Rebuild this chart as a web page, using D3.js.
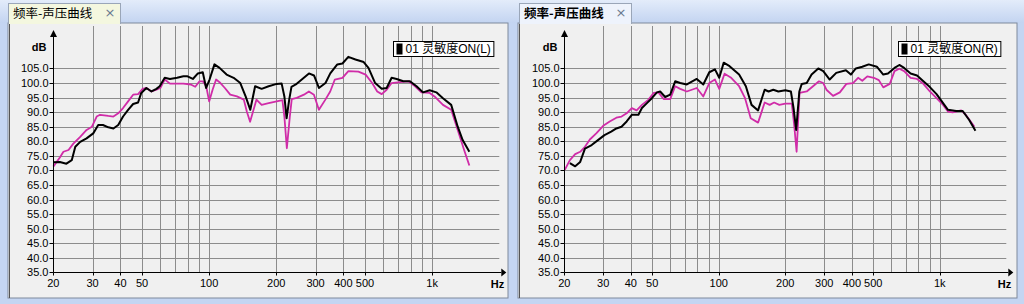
<!DOCTYPE html>
<html><head><meta charset="utf-8">
<script src="https://cdnjs.cloudflare.com/ajax/libs/d3/7.8.5/d3.min.js"></script>
<style>
html,body{margin:0;padding:0;background:#c4d5f2;}
svg{display:block;}
</style></head>
<body>
<svg id="chart" width="1024" height="304"></svg>
<script>
// ---------------- data ----------------
const tabTitle = "频率-声压曲线";
const yTicks = [35,40,45,50,55,60,65,70,75,80,85,90,95,100,105];
const gridFreqs = [30,40,50,60,70,80,90,100,200,300,400,500,600,700,800,900,1000];
const xTickValues = [20,30,40,50,100,200,300,400,500,1000];
const xTickLabels = ["20","30","40","50","100","200","300","400","500","1k"];

const leftBlackFreq = [20,21.4,22.9,24.2,25.1,26.4,28.2,30.2,31.8,33.4,35.3,37.2,39.1,41.1,43.3,45.6,48,49.6,52.3,55.1,58,60,63.2,66.7,71.8,76.6,80,84.5,89,93.6,96.9,100.4,105.6,111.3,119.7,128.7,137.9,145.7,152.9,160.7,171.9,184.8,200.8,211.4,217.4,222.4,228.5,233.9,244.6,261.8,280.2,295.2,310.5,332.4,349.2,375.4,396,420.7,453,493,518,555,594,625,658,693,742,795,851,910,975,1044,1118,1217,1302,1370,1468];
const leftBlackDb = [72.8,72.9,72.3,73.5,78.1,79.8,81,82.7,85.6,85.6,84.8,84.4,85.6,88.5,90.8,92.8,93.3,96.6,98.3,97.1,98,98.9,101.8,101.4,101.8,102.3,102.3,101.4,103.3,103.7,98.3,101.2,106.4,105.2,102.9,101.8,100,95.4,90.8,98.9,98,98.9,99.7,99.8,95.4,87.9,94.3,98.7,99.5,101.4,103.3,102.6,98.3,100,103.3,106.4,106.7,109,108.1,107.2,105.2,100,98,98.3,101.8,101.4,100.6,100.6,98.9,96.8,97.5,96.8,94.8,92.5,85,80.4,76.4];

const leftMagentaFreq = [20,21.4,22.2,23.4,24.6,26.4,28.2,29.8,31.3,32.4,35.3,37.2,39.1,41.1,43.3,45.6,48,50.3,52.3,55.1,58,60.4,63.2,66.7,76.6,82.7,86.6,90.5,93.6,97,100,103.6,107.4,111.3,117.6,124.3,133.2,143,147.5,152.6,162.9,171.9,184.8,200.8,213,217.4,223,230,234.6,247,266,280,295,310.5,332,349,366,396,421,467,503,538,567,594,625,658,716,782,838,895,975,1024,1118,1217,1302,1392,1468];
const leftMagentaDb = [71.3,74.4,76.4,77,79.2,81.5,83.9,85,88.5,89.1,88.7,88.5,89.6,91.4,93.7,96,96.2,98,98.3,97.1,97.7,98.3,101.2,99.8,99.8,99.5,98.7,100.6,100.6,98.9,93.7,97.7,101.2,100.3,98.3,96,95.4,94.3,90.2,86.7,94.3,92.5,93.1,93.7,94.1,88.5,77.6,88.5,94.5,94.9,96,97.1,96,90.8,94.3,97.1,101.2,101.8,104.1,103.9,102.9,100,97.1,96.2,97.7,100,100.3,100.6,98.9,96.8,96.6,95.4,92.5,90.8,83.9,76.9,71.7];

const rightBlackFreq = [21.2,22.4,23.6,24.8,26.6,28.4,30.4,32.6,34.4,36.3,38.3,40.4,43.3,44.9,47.3,49.8,52.5,54.3,57.2,60.3,63.5,66.9,71.7,79.5,85.1,90.6,96.1,100.5,105.3,111.9,123.6,132.6,140.7,150.6,161.3,168,176.5,186,200,212,218,224,231.5,237.4,250,263,282,297,317.6,340,376,396,417,446,477,519,555,583,624,656,690,738,789,843,902,967,1035,1089,1186,1270,1359,1450];
const rightBlackDb = [72.5,71.4,72.9,77.5,78.7,80.4,82.1,83.3,84.4,85,86.8,89.1,89.1,91.4,93.1,94.8,96.8,97.1,95.2,96,100.6,100,99.5,101.4,99.5,103.7,104.7,101.8,107,105.8,102.9,98.9,92.5,90.6,97.7,97.1,97.7,97.1,97.5,97.1,91.4,83.9,97.1,99.7,100,102.9,105,104.1,101.2,103.5,104.4,102.9,105,105.6,106.4,105.6,102.9,103.3,105.2,106.2,105.2,103.3,102.6,100.6,98.6,96.2,93.1,90.8,90.4,90.4,87.3,83.6];

const rightMagentaFreq = [20.1,21.2,22.4,23.6,24.8,26.1,27.9,30,32.1,34.4,36.3,38.3,40.4,42.5,44.9,48.1,50.7,53.3,56.3,60.3,63.5,66.9,71.7,79.5,85.1,90.6,96.1,100.5,106.2,113.8,123.6,131.5,139.5,150.6,161.3,170,178,188,200,214,219,225,232,250,267,284,297,307,329,353,378,405,427,446,470,503,530,555,594,624,656,690,738,789,843,902,967,1035,1089,1144,1250,1311,1435];
const rightMagentaDb = [70.2,73.5,75.6,76.4,78.1,80.6,82.7,85.3,86.8,88.1,88.5,89.6,91.4,90.6,92.5,94.3,96.6,96.8,94.5,94.5,98.9,98,97.1,98.3,95.4,100,101.2,98,103.2,101.8,98.9,94.8,87.9,86.4,93.3,92.5,93.3,92.5,92.9,92.9,86.2,76.4,96.6,97.1,98.9,100.6,100,97.7,95.6,96.8,99.7,100,101.8,100.8,102.3,101.8,101,98.5,99.7,104.1,104.9,104.1,101.8,101.4,99.7,97.1,94.8,92.5,90.2,89.9,90.6,89.1,85];

const legendLeft = "01 灵敏度ON(L)";
const legendRight = "01 灵敏度ON(R)";

// ---------------- drawing ----------------
const svg = d3.select("#chart");
const defs = svg.append("defs");
const gTop = defs.append("linearGradient").attr("id","topband").attr("x1",0).attr("y1",0).attr("x2",0).attr("y2",1);
gTop.append("stop").attr("offset","0%").attr("stop-color","#e3ecfa");
gTop.append("stop").attr("offset","100%").attr("stop-color","#c3d4f1");

svg.append("rect").attr("x",0).attr("y",0).attr("width",1024).attr("height",304).attr("fill","#c4d5f2");
svg.append("rect").attr("x",0).attr("y",0).attr("width",1024).attr("height",23).attr("fill","url(#topband)");

function drawPanel(cfg) {
  const g = svg.append("g");
  // content area
  g.append("rect").attr("x",cfg.left).attr("y",23).attr("width",cfg.right-cfg.left).attr("height",275)
    .attr("fill","#f0f0f0").attr("stroke","#7f8a9c").attr("stroke-width",1);
  g.append("line").attr("x1",cfg.left+1.5).attr("x2",cfg.left+1.5).attr("y1",23).attr("y2",298).attr("stroke","#555").attr("stroke-width",1);
  // tab
  g.append("rect").attr("x",cfg.tabX+0.5).attr("y",3.5).attr("width",112).attr("height",20)
    .attr("fill",cfg.tabFill).attr("stroke","#9aa6b8");
  g.append("rect").attr("x",cfg.tabX+1).attr("y",22).attr("width",111).attr("height",2).attr("fill",cfg.tabFill);
  g.append("text").attr("x",cfg.tabX+5).attr("y",18).text(tabTitle)
    .attr("font-family","'Noto Sans CJK SC', sans-serif").attr("font-size",12.5)
    .attr("font-weight",cfg.tabBold?"bold":"normal").attr("fill","#000");
  g.append("text").attr("x",cfg.tabX+102).attr("y",17).text("×")
    .attr("font-family","'DejaVu Sans', sans-serif").attr("font-size",13).attr("fill","#6a7a90")
    .attr("text-anchor","middle");

  const x = d3.scaleLog().domain([20,2000]).range([cfg.x0, cfg.x0 + 2*cfg.ppd]);
  const y = d3.scaleLinear().domain([35,120]).range([272.3, 24.8]);
  const xr = x(2000);

  // plot background
  g.append("rect").attr("x",cfg.x0).attr("y",25).attr("width",xr-cfg.x0).attr("height",272.3-25).attr("fill","#f0f0f0");

  // grid
  g.selectAll(".vg").data(gridFreqs).join("line")
    .attr("x1",d=>Math.round(x(d))+0.5).attr("x2",d=>Math.round(x(d))+0.5)
    .attr("y1",26).attr("y2",272).attr("stroke","#8c8c8c").attr("stroke-width",1);
  g.selectAll(".hg").data(yTicks.slice(1)).join("line")
    .attr("x1",cfg.x0).attr("x2",xr)
    .attr("y1",d=>Math.round(y(d))+0.5).attr("y2",d=>Math.round(y(d))+0.5)
    .attr("stroke","#8c8c8c").attr("stroke-width",1);

  // curves
  const line = d3.line().x(d=>x(d[0])).y(d=>y(d[1])).curve(d3.curveLinear);
  g.append("path").datum(d3.zip(cfg.mFreq,cfg.mDb)).attr("d",line)
    .attr("fill","none").attr("stroke","#d02ca8").attr("stroke-width",1.8).attr("stroke-linejoin","round");
  g.append("path").datum(d3.zip(cfg.bFreq,cfg.bDb)).attr("d",line)
    .attr("fill","none").attr("stroke","#000").attr("stroke-width",2).attr("stroke-linejoin","round");

  // axes
  const ax = Math.round(cfg.x0)+0.5, ay = 272.5;
  g.append("line").attr("x1",ax).attr("x2",ax).attr("y1",ay).attr("y2",34).attr("stroke","#000");
  g.append("path").attr("d",`M${ax-3.5},37 L${ax},30 L${ax+3.5},37 Z`).attr("fill","#000");
  g.append("line").attr("x1",ax).attr("x2",xr+2).attr("y1",ay).attr("y2",ay).attr("stroke","#000");
  g.append("path").attr("d",`M${xr+2},${ay-4} L${xr+7},${ay} L${xr+2},${ay+4} Z`).attr("fill","#000");

  // y ticks
  g.selectAll(".yt").data(yTicks).join("line")
    .attr("x1",ax-4).attr("x2",ax).attr("y1",d=>Math.round(y(d))+0.5).attr("y2",d=>Math.round(y(d))+0.5).attr("stroke","#000");
  g.selectAll(".yl").data(yTicks).join("text")
    .attr("x",ax-5).attr("y",d=>y(d)+4).attr("text-anchor","end")
    .attr("font-family","'Liberation Sans', Arial, sans-serif").attr("font-size",11).attr("fill","#000")
    .text(d=>d3.format(".1f")(d));
  // x ticks
  g.selectAll(".xt").data(xTickValues).join("line")
    .attr("x1",d=>Math.round(x(d))+0.5).attr("x2",d=>Math.round(x(d))+0.5).attr("y1",ay).attr("y2",ay+3).attr("stroke","#000");
  g.selectAll(".xl").data(xTickValues).join("text")
    .attr("x",d=>x(d)).attr("y",287).attr("text-anchor","middle")
    .attr("font-family","'Liberation Sans', Arial, sans-serif").attr("font-size",11).attr("fill","#000")
    .text((d,i)=>xTickLabels[i]);
  g.append("text").attr("x",xr+5).attr("y",288).attr("text-anchor","end").text("Hz")
    .attr("font-family","'Liberation Sans', Arial, sans-serif").attr("font-size",11).attr("font-weight","bold");
  g.append("text").attr("x",ax-7).attr("y",51).attr("text-anchor","end").text("dB")
    .attr("font-family","'Liberation Sans', Arial, sans-serif").attr("font-size",11).attr("font-weight","bold");

  // legend
  const lt = g.append("text").attr("y",53).text(cfg.legend)
    .attr("font-family","'Liberation Sans', Arial, 'Noto Sans CJK SC', sans-serif").attr("font-size",12).attr("fill","#000");
  const tw = lt.node().getComputedTextLength();
  const bw = tw + 15;
  const bx = Math.round(xr - 6 - bw) + 0.5;
  g.insert("rect", () => lt.node()).attr("x",bx).attr("y",41.5).attr("width",bw).attr("height",15)
    .attr("fill","#fff").attr("stroke","#000");
  g.insert("rect", () => lt.node()).attr("x",bx+3).attr("y",43.5).attr("width",6).attr("height",11).attr("fill","#000");
  lt.attr("x",bx+12);
}

// divider
svg.append("rect").attr("x",508).attr("y",23).attr("width",10).attr("height",281).attr("fill","#c4d5f2");

drawPanel({left:8,right:508,tabX:8,tabFill:"#f4f7df",tabBold:false,x0:53.3,ppd:223,
  bFreq:leftBlackFreq,bDb:leftBlackDb,mFreq:leftMagentaFreq,mDb:leftMagentaDb,legend:legendLeft});
drawPanel({left:518,right:1017,tabX:519,tabFill:"#eef3fc",tabBold:true,x0:564.3,ppd:221,
  bFreq:rightBlackFreq,bDb:rightBlackDb,mFreq:rightMagentaFreq,mDb:rightMagentaDb,legend:legendRight});
</script>
</body></html>
